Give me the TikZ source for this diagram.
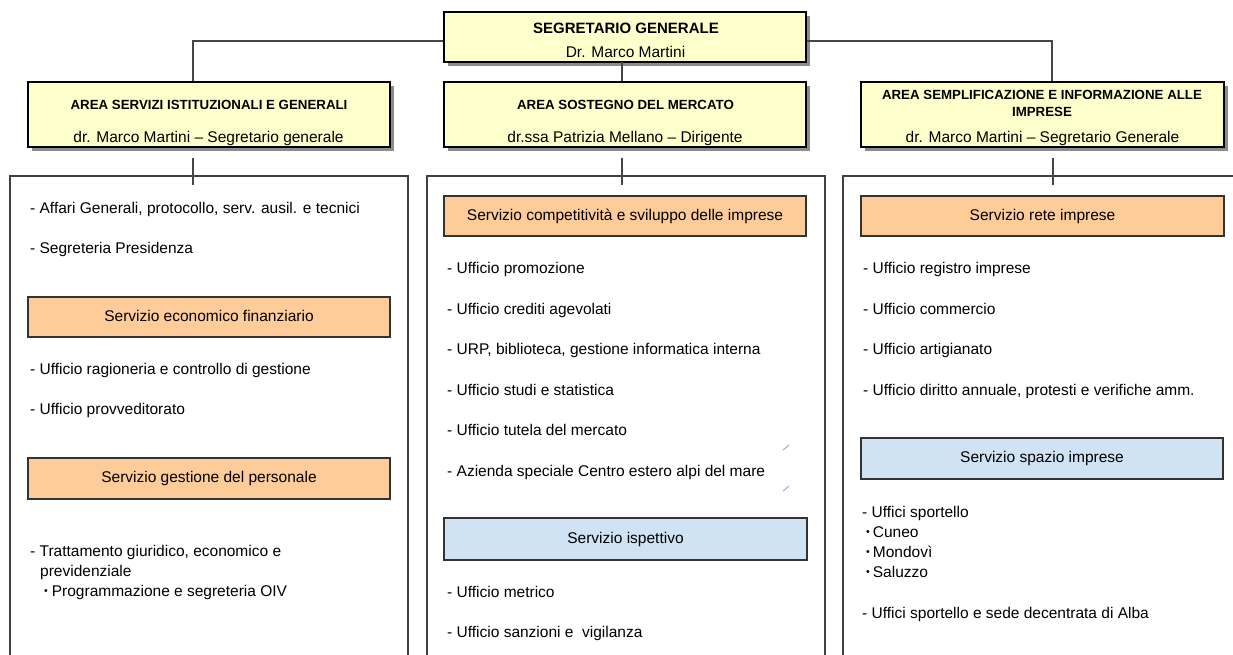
\documentclass[tikz,border=0pt]{standalone}
\usepackage{fontspec}
\setmainfont{Liberation Sans}
\usetikzlibrary{shadows}
\definecolor{yel}{RGB}{255,255,204}
\definecolor{orng}{RGB}{253,204,153}
\definecolor{blu}{RGB}{207,227,245}
\definecolor{connc}{RGB}{70,70,70}
\definecolor{tickc}{RGB}{140,165,210}
\newcommand{\bodyfont}{\fontsize{15.5}{18}\selectfont}
\newcommand{\areafont}{\fontsize{13.3}{16}\selectfont\bfseries}
\newcommand{\topfont}{\fontsize{15}{18}\selectfont\bfseries}
\newcommand{\smallbul}{{\fontsize{10.5}{11}\selectfont\raisebox{1.6pt}{•}}}
\begin{document}
\begin{tikzpicture}[x=1pt,y=-1pt,
  yelbox/.style={draw=black,line width=1.2pt,fill=yel,minimum width=362pt,inner sep=0pt,
    drop shadow={shadow xshift=4pt,shadow yshift=-4pt,fill=black!45,opacity=1}},
  svcbox/.style={draw=black!80,line width=1.2pt,minimum width=362pt,minimum height=40pt,
    inner sep=0pt,font=\bodyfont,text height=0.92em,text depth=0.1em},
  orangebox/.style={svcbox,fill=orng},
  bluebox/.style={svcbox,fill=blu},
  container/.style={draw=black!75,line width=1.2pt,minimum width=398pt,minimum height=524pt,inner sep=0pt},
  conn/.style={draw=connc,line width=1.2pt},
  item/.style={anchor=base west,inner sep=0pt,font=\bodyfont},
  ctext/.style={anchor=base,inner sep=0pt},
  tickmark/.style={draw=tickc,line width=0.9pt}]
\useasboundingbox (0,0) rectangle (1233,655);
\clip (0,0) rectangle (1233,655);

% containers
\node[container] (c1) at (209,438) {};
\node[container] (c2) at (626,438) {};
\node[container] (c3) at (1042,438) {};

% top and area boxes
\node[yelbox,minimum height=50pt] (top) at (625,37) {};
\node[yelbox,minimum height=65pt] (a1) at (209,114.5) {};
\node[yelbox,minimum height=65pt] (a2) at (625,114.5) {};
\node[yelbox,minimum height=65pt,minimum width=363pt] (a3) at (1042.5,114.5) {};

% texts in top/area boxes
\node[ctext,font=\topfont] (toptitle) at (626,34) {SEGRETARIO GENERALE};
\node[ctext,font=\bodyfont] (topname) at (625.5,58) {Dr. Marco Martini};
\node[ctext,font=\areafont] (a1title) at (209,110) {AREA SERVIZI ISTITUZIONALI E GENERALI};
\node[ctext,font=\bodyfont] (a1name) at (208.5,143) {dr. Marco Martini – Segretario generale};
\node[ctext,font=\areafont] (a2title) at (625.5,110) {AREA SOSTEGNO DEL MERCATO};
\node[ctext,font=\bodyfont] (a2name) at (625,143) {dr.ssa Patrizia Mellano – Dirigente};
\node[ctext,font=\areafont] (a3title) at (1042,100) {AREA SEMPLIFICAZIONE E INFORMAZIONE ALLE};
\node[ctext,font=\areafont] (a3title2) at (1042,117) {IMPRESE};
\node[ctext,font=\bodyfont] (a3name) at (1042.5,143) {dr. Marco Martini – Segretario Generale};

% connectors
\coordinate (j1) at (193,41);
\coordinate (j3) at (1052,41);
\coordinate (j2) at (622,62);
\draw[conn] (top.west |- j1) -- (j1) -- (j1 |- a1.north);
\draw[conn] (top.east |- j3) -- (j3) -- (j3 |- a3.north);
\draw[conn] (j2) -- (j2 |- a2.north);
\coordinate (d1) at (193,158);
\coordinate (d2) at (622,158);
\coordinate (d3) at (1053,158);
\draw[conn] (d1) -- ++(0,27);
\draw[conn] (d2) -- ++(0,27);
\draw[conn] (d3) -- ++(0,27);

% service boxes
\node[orangebox] (s1a) at (209,317) {Servizio economico finanziario};
\node[orangebox,minimum height=41pt] (s1b) at (209,478.5) {Servizio gestione del personale};
\node[orangebox] (s2a) at (625,216) {Servizio competitività e sviluppo delle imprese};
\node[bluebox,minimum height=42pt,minimum width=363pt] (s2b) at (625.5,539) {Servizio ispettivo};
\node[orangebox,minimum width=363pt] (s3a) at (1042.5,216) {Servizio rete imprese};
\node[bluebox,minimum height=41pt] (s3b) at (1042,458.5) {Servizio spazio imprese};

% column 1 items
\node[item] (i11) at (30,213) {- Affari Generali, protocollo, serv. ausil. e tecnici};
\node[item] (i12) at (30,253) {- Segreteria Presidenza};
\node[item] (i13) at (30,374) {- Ufficio ragioneria e controllo di gestione};
\node[item] (i14) at (30,414) {- Ufficio provveditorato};
\node[item] (i15) at (30,556) {- Trattamento giuridico, economico e};
\node[item] (i16) at (40,576) {previdenziale};
\node[item] (i17) at (44,596) {\smallbul\hspace{4pt}Programmazione e segreteria OIV};

% column 2 items
\node[item] (i21) at (447,273) {- Ufficio promozione};
\node[item] (i22) at (447,314) {- Ufficio crediti agevolati};
\node[item] (i23) at (447,354) {- URP, biblioteca, gestione informatica interna};
\node[item] (i24) at (447,395) {- Ufficio studi e statistica};
\node[item] (i25) at (447,435) {- Ufficio tutela del mercato};
\node[item] (i26) at (447,476) {- Azienda speciale Centro estero alpi del mare};
\node[item] (i27) at (447,597) {- Ufficio metrico};
\node[item] (i28) at (447,637) {- Ufficio sanzioni e~ vigilanza};
\draw[tickmark] (783,450) -- (789,445);
\draw[tickmark] (783,491) -- (789,486);

% column 3 items
\node[item] (i31) at (863,273) {- Ufficio registro imprese};
\node[item] (i32) at (863,314) {- Ufficio commercio};
\node[item] (i33) at (863,354) {- Ufficio artigianato};
\node[item] (i34) at (863,395) {- Ufficio diritto annuale, protesti e verifiche amm.};
\node[item] (i35) at (862,517) {- Uffici sportello};
\node[item] (i36) at (866,537) {\smallbul\hspace{3pt}Cuneo};
\node[item] (i37) at (866,557) {\smallbul\hspace{3pt}Mondovì};
\node[item] (i38) at (866,577) {\smallbul\hspace{3pt}Saluzzo};
\node[item] (i39) at (862,618) {- Uffici sportello e sede decentrata di Alba};
\end{tikzpicture}
\end{document}
